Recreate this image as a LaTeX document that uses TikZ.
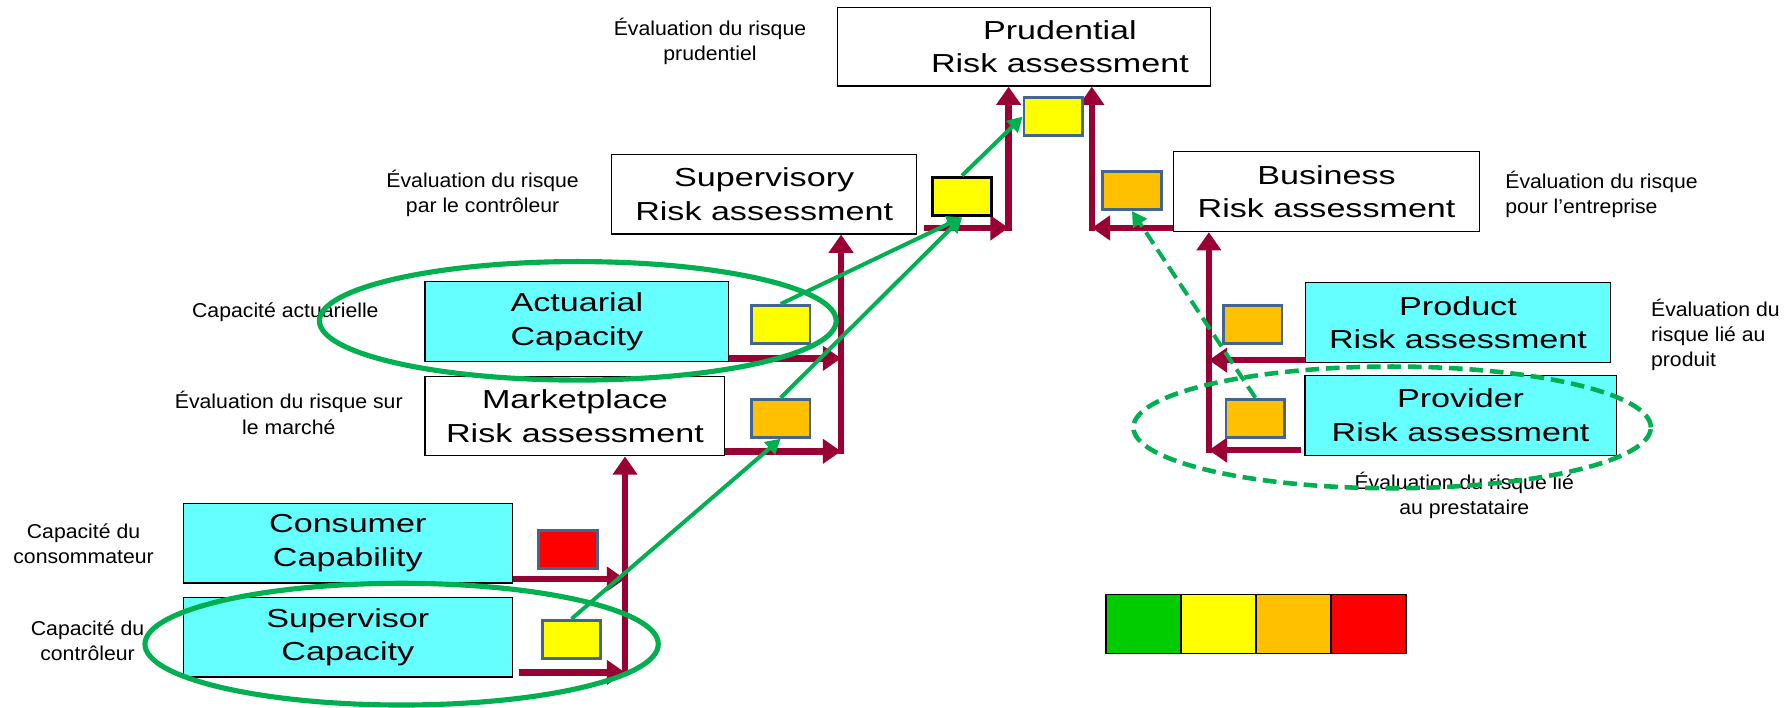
\documentclass[tikz,border=0pt]{standalone}
\usepackage{fontspec}
\setmainfont{Liberation Sans}
\newfontfamily\boxfont[FakeStretch=1.31]{Liberation Sans}
\newfontfamily\notefont[FakeStretch=1.06]{Liberation Sans}
\newcommand{\boxtext}{\boxfont\fontsize{13pt}{16.7pt}\selectfont}
\newcommand{\notetext}{\notefont\fontsize{10pt}{12.5pt}\selectfont}
\usetikzlibrary{arrows.meta,calc}
\definecolor{wine}{HTML}{990033}
\definecolor{leaf}{HTML}{00B050}
\definecolor{aqua}{HTML}{66FFFF}
\definecolor{lemon}{HTML}{FFFF00}
\definecolor{amber}{HTML}{FFC000}
\definecolor{scarlet}{HTML}{FF0000}
\definecolor{grass}{HTML}{00CC00}
\definecolor{flagline}{HTML}{44658F}

\begin{document}
\begin{tikzpicture}[x=0.2mm,y=-0.2mm,
    box/.style={draw=black,line width=0.6pt,fill=white,minimum width=53.6mm,minimum height=14mm,inner sep=0pt,align=center,font=\boxtext},
    capbox/.style={box,fill=aqua},
    note/.style={font=\notetext,align=center,inner sep=0pt},
    flag/.style={draw=flagline,line width=1.4pt,minimum width=10.3mm,minimum height=6.7mm,inner sep=0pt},
    swatch/.style={draw=black,line width=0.8pt,minimum width=13.16mm,minimum height=10.34mm,inner sep=0pt},
    feed/.style={wine,line width=1.16mm,-{Triangle[length=3.2mm,width=4.2mm]}},
    trail/.style={leaf,line width=0.7mm,-{Triangle[length=2.6mm,width=2.8mm]}},
    ring/.style={leaf,line width=0.9mm}]
  \useasboundingbox (0,0) rectangle (1568,621);

  % assessment boxes, top down (prudential text sits right of centre)
  \node[box,minimum width=65.4mm,minimum height=13.8mm] (prud) at (898.5,41) {};
  \node[font=\boxtext,align=center,inner sep=0pt] (prud-txt) at (930,41) {Prudential\\Risk assessment};
  \node[box] (sup) at (670.5,170.3) {Supervisory\\Risk assessment};
  \node[box] (bus) at (1164,168.2) {Business\\Risk assessment};
  \node[capbox,minimum width=53.3mm] (act) at (506.2,282.2) {Actuarial\\Capacity};
  \node[box,minimum width=52.6mm] (mkt) at (504.5,365) {Marketplace\\Risk assessment};
  \node[capbox,minimum width=57.8mm] (con) at (305.2,476.6) {Consumer\\Capability};
  \node[capbox,minimum width=57.8mm] (svc) at (305.2,559) {Supervisor\\Capacity};
  \node[capbox] (prd) at (1279.3,283) {Product\\Risk assessment};
  \node[capbox,minimum width=54.6mm] (prv) at (1281.6,364.4) {Provider\\Risk assessment};

  % french captions
  \node[note] (l-prud) at (623,36.6) {Évaluation du risque\\prudentiel};
  \node[note] (l-sup) at (423.5,169.8) {Évaluation du risque\\par le contrôleur};
  \node[note,align=left,anchor=west] (l-bus) at (1320.5,170.2) {Évaluation du risque\\pour l’entreprise};
  \node[note] (l-act) at (250.4,274.3) {Capacité actuarielle};
  \node[note] (l-mkt) at (253.4,362.3) {Évaluation du risque sur\\le marché};
  \node[note] (l-con) at (73.3,477.2) {Capacité du\\consommateur};
  \node[note] (l-svc) at (76.8,561.9) {Capacité du\\contrôleur};
  \node[note,align=left,anchor=west] (l-prd) at (1448.4,293.5) {Évaluation du\\risque lié au\\produit};
  \node[note] (l-prv) at (1284.8,434.3) {Évaluation du risque lié\\au prestataire};

  % roll-up arrows (junctions on the vertical bars)
  \coordinate (jpl) at (885,200);
  \coordinate (jpr) at (958,200);
  \coordinate (jsu) at (738,396);
  \coordinate (jac) at (738,314.4);
  \coordinate (jmk) at (548.4,590);
  \coordinate (jco) at (548.4,508);
  \coordinate (jbu) at (1060.7,395);
  \coordinate (jpd) at (1060.7,316);
  \draw[feed,shorten <=-0.5mm] (jpl) -- (jpl |- prud.south);
  \draw[feed,shorten <=-0.5mm] (jpr) -- (jpr |- prud.south);
  \draw[feed] ($(sup.east |- jpl)+(6,0)$) -- (jpl);
  \draw[feed] (bus.west |- jpr) -- (jpr);
  \draw[feed,shorten <=-0.5mm] (jsu) -- (jsu |- sup.south);
  \draw[feed] (act.east |- jac) -- (jac);
  \draw[feed] (mkt.east |- jsu) -- (jsu);
  \draw[feed,shorten <=-0.5mm] (jmk) -- (jmk |- mkt.south);
  \draw[feed] (con.east |- jco) -- (jco);
  \draw[feed] ($(svc.east |- jmk)+(5,0)$) -- (jmk);
  \draw[feed,shorten <=-0.5mm] (jbu) -- (jbu |- bus.south);
  \draw[feed] (prd.west |- jpd) -- (jpd);
  \draw[feed] ($(prv.west |- jbu)+(-3,0)$) -- (jbu);

  % rating flags
  \node[flag,fill=lemon] (prsq) at (924.3,102.3) {};
  \node[flag,fill=lemon,draw=black,line width=1.8pt] (supsq) at (844.1,172.4) {};
  \node[flag,fill=amber] (bussq) at (993.2,167.2) {};
  \node[flag,fill=lemon] (acsq) at (685,284.7) {};
  \node[flag,fill=amber] (mksq) at (685,367) {};
  \node[flag,fill=scarlet] (cosq) at (498.5,482) {};
  \node[flag,fill=lemon] (svsq) at (501.5,561) {};
  \node[flag,fill=amber] (pdsq) at (1099.1,284.7) {};
  \node[flag,fill=amber] (pvsq) at (1101.5,367) {};

  % green trails between flags
  \draw[trail] (svsq.north) -- (mksq.south);
  \draw[trail] (mksq.north) -- (supsq.south);
  \draw[trail] (acsq.north) -- (supsq.south);
  \draw[trail] (supsq.north) -- (prsq.west);
  \draw[trail,dash pattern=on 2.4mm off 1.2mm] (pvsq.north) -- (bussq.south);

  % highlight rings
  \draw[ring] (507,281.5) ellipse [x radius=45.34mm,y radius=10.4mm];
  \draw[ring] (352.4,565.2) ellipse [x radius=45.04mm,y radius=10.68mm];
  \draw[ring,line width=0.8mm,dash pattern=on 2.4mm off 1.2mm] (1221.5,375) ellipse [x radius=45.4mm,y radius=10.68mm];

  % rating scale
  \foreach \tone [count=\k] in {grass,lemon,amber,scarlet}
    \node[swatch,fill=\tone] (key\k) at ({1003.3+65.8*(\k-1)},547.4) {};
\end{tikzpicture}
\end{document}
